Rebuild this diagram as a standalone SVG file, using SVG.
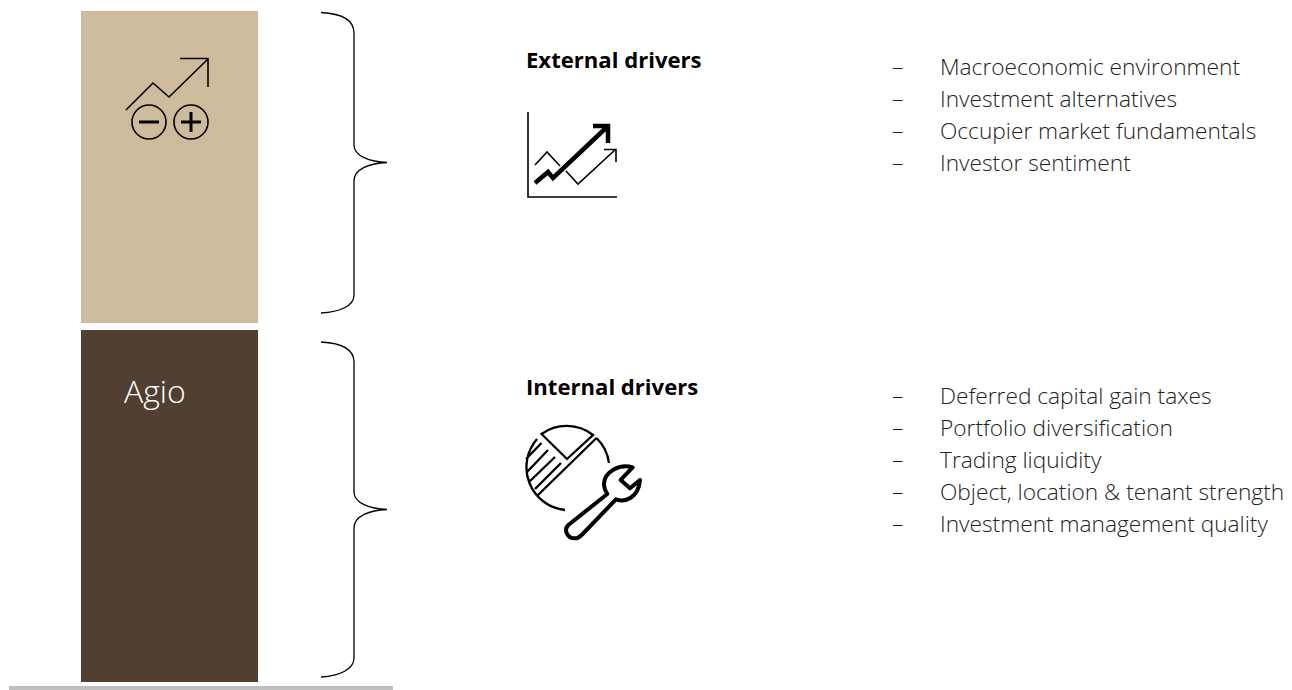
<svg xmlns="http://www.w3.org/2000/svg" width="1292" height="690" viewBox="0 0 1292 690">
<style>
text{font-family:"Open Sans","Noto Sans","Liberation Sans",sans-serif;font-size:22.7px;fill:#222;font-weight:300}
.h{font-weight:700;font-size:22.1px;fill:#000}
.b{fill:none;stroke:#000;stroke-width:1.3}
.i{fill:none;stroke:#000;stroke-width:1.6}
</style>
<rect width="1292" height="690" fill="#fff"/>
<g id="box-top"><rect x="81" y="11" width="177" height="312" fill="#cebb9c"/>
<g id="icon-top" class="i"><path d="M126 110L153 83L169 97L208 59M180 58.500H208V87"/><circle cx="149" cy="122" r="17"/><circle cx="191" cy="122" r="17"/><path stroke-width="3" d="M139 122H159M181 122H201M191 112V132"/></g></g>
<g id="box-bottom"><rect x="81" y="330" width="177" height="352" fill="#513f32"/><text x="124" y="403" style="font-size:32px;fill:#fff">Agio</text></g>
<rect id="rule" x="9" y="686" width="384" height="4" fill="#bfbfbf"/>
<g id="connectors">
<path class="b" d="M321 12.500C340 13.500 354 19 354 33V145C354 156 370 162 387 162.500C370 163 354 169 354 181V295C354 306 340 312 321 313"/>
<path class="b" d="M321 342C340 343 354 348 354 362V492C354 503 370 509 387 509.500C370 510 354 516 354 528V658C354 669 340 676 321 677"/>
</g>
<g id="external"><text class="h" x="526" y="68">External drivers</text>
<g class="i"><path d="M528 112V197H617"/><path d="M535 165L547 152L560 166M566 171L578 184L616 149M604 149.500H616V162"/><path stroke-width="4.500" d="M535 183L548 172L553 178L607 127M593 126H608V143"/></g></g>
<g id="internal"><text class="h" x="526" y="395">Internal drivers</text>
<path fill="none" stroke="#000" stroke-width="2.300" d="M541.500 434A43 43 0 0 1 593 435L567 459ZM596.500 438A43 43 0 0 1 609 463M596.500 438L538 495M565 510A43 43 0 0 1 537 439M526 459L541.500 443M527 472L548 450M529 482L555 457M535 489L561 463"/>
<path transform="translate(510 430) scale(.3333)" fill="none" stroke="#000" stroke-width="12" stroke-linejoin="round" d="M368 112C330 100 280 125 282 165C283 178 287 185 292 192L175 285C160 300 172 325 195 325C205 325 210 320 215 315L318 208C345 218 385 205 390 150L360 175L332 150Z"/></g>
<g id="external-list">
<text x="892" y="75">–</text><text x="940" y="75">Macroeconomic environment</text>
<text x="892" y="107">–</text><text x="940" y="107">Investment alternatives</text>
<text x="892" y="139">–</text><text x="940" y="139">Occupier market fundamentals</text>
<text x="892" y="171">–</text><text x="940" y="171">Investor sentiment</text>
</g>
<g id="internal-list">
<text x="892" y="404">–</text><text x="940" y="404">Deferred capital gain taxes</text>
<text x="892" y="436">–</text><text x="940" y="436">Portfolio diversification</text>
<text x="892" y="468">–</text><text x="940" y="468">Trading liquidity</text>
<text x="892" y="500">–</text><text x="940" y="500">Object, location &amp; tenant strength</text>
<text x="892" y="532">–</text><text x="940" y="532">Investment management quality</text>
</g>
</svg>
